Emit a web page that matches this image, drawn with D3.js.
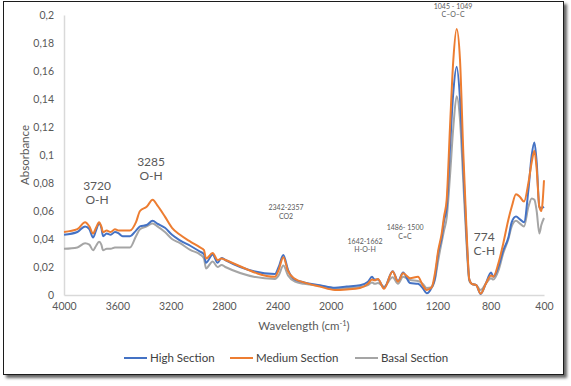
<!DOCTYPE html>
<html><head><meta charset="utf-8">
<script src="https://cdn.jsdelivr.net/npm/d3@7/dist/d3.min.js"></script>
<style>
html,body{margin:0;padding:0;background:#fff;}
svg{display:block;font-family:"Lato","Open Sans",sans-serif;}
</style></head>
<body>
<svg id="c" width="571" height="386"></svg>
<script>
const wavenumbers = [4000,3900,3842,3810,3782,3760,3737,3720,3707,3680,3650,3618,3590,3560,3505,3460,3430,3380,3335,3300,3243,3190,3130,3050,2980,2950,2935,2885,2848,2818,2790,2418,2390,2355,2320,2268,2200,2080,1968,1880,1780,1720,1690,1670,1645,1600,1535,1495,1457,1405,1345,1310,1280,1242,1218,1193,1167,1150,1130,1105,1080,1055,1030,1005,980,960,942,908,875,837,797,780,742,705,667,642,610,580,550,517,492,472,455,435,420,400];
const highSection = [.043,.045,.049,.047,.041,.046,.051,.048,.042,.044,.043,.045,.044,.042,.042,.046,.049,.050,.053,.051,.048,.043,.039,.035,.031,.029,.023,.029,.023,.0265,.025,.015,.020,.0285,.018,.011,.009,.007,.0052,.006,.007,.0095,.013,.011,.011,.005,.017,.010,.016,.0086,.008,.005,.0012,.0055,.012,.030,.041,.053,.062,.105,.145,.163,.140,.090,.040,.011,.008,.007,.0007,.008,.016,.013,.020,.032,.041,.052,.056,.054,.052,.075,.100,.109,.095,.063,.062,.063];
const mediumSection = [.045,.047,.052,.049,.044,.048,.052,.049,.045,.046,.045,.047,.046,.046,.046,.052,.060,.063,.068,.064,.056,.048,.043,.038,.034,.032,.026,.030,.025,.026,.025,.013,.018,.027,.017,.0115,.009,.006,.0036,.004,.005,.008,.011,.0105,.0115,.0045,.0167,.0095,.0155,.012,.013,.007,.0036,.0055,.0155,.032,.044,.056,.068,.120,.168,.190,.168,.101,.044,.011,.008,.007,.001,.008,.014,.013,.0226,.037,.054,.063,.072,.070,.0667,.080,.095,.103,.090,.063,.060,.082];
const basalSection = [.033,.034,.037,.036,.032,.035,.038,.036,.032,.033,.033,.034,.034,.034,.034,.042,.047,.049,.051,.049,.045,.040,.037,.032,.029,.026,.019,.024,.020,.0215,.020,.0115,.014,.021,.014,.0095,.008,.0065,.0043,.005,.0057,.007,.009,.008,.0085,.006,.0126,.008,.013,.0107,.010,.008,.005,.0055,.011,.025,.038,.046,.055,.085,.120,.142,.125,.080,.035,.010,.008,.007,.0036,.008,.012,.011,.0174,.030,.040,.049,.053,.051,.049,.063,.069,.068,.060,.044,.050,.055];
const seriesNames = ["High Section","Medium Section","Basal Section"];
const seriesColors = ["#4472C4","#ED7D31","#A5A5A5"];
const xTicks = [4000,3600,3200,2800,2400,2000,1600,1200,800,400];
const yTicks = [0,0.02,0.04,0.06,0.08,0.1,0.12,0.14,0.16,0.18,0.2];
// label anchor: lx (wavenumber units) and y (absorbance units) of first baseline
const annotations = [
  {lx:3752, y:0.075, lines:["3720","O-H"], size:12},
  {lx:3347, y:0.0921, lines:["3285","O-H"], size:12},
  {lx:2335, y:0.0604, lines:["2342-2357","CO2"], size:7},
  {lx:1742, y:0.0364, lines:["1642-1662","H-O-H"], size:7},
  {lx:1442, y:0.0461, lines:["1486- 1500","C=C"], size:7},
  {lx:1082, y:0.2043, lines:["1045 - 1049","C–O–C"], size:7},
  {lx:848,  y:0.0386, lines:["774","C-H"], size:12}
];

const svg = d3.select("#c");
const defs = svg.append("defs");
const f = defs.append("filter").attr("id","sh").attr("x","-5%").attr("y","-5%").attr("width","115%").attr("height","115%");
f.append("feDropShadow").attr("dx",3).attr("dy",3).attr("stdDeviation",1.5).attr("flood-color","#000").attr("flood-opacity",0.6);
svg.append("rect").attr("x",3.5).attr("y",1.5).attr("width",560).attr("height",373)
  .attr("fill","#fff").attr("stroke","#1a1a1a").attr("stroke-width",1).attr("filter","url(#sh)");

const x = d3.scaleLinear().domain([4000,400]).range([64,544]);
const y = d3.scaleLinear().domain([0,0.2]).range([295,15]);
const fmt = v => (v===0?"0":d3.format("~g")(+v.toFixed(2))).replace(".",",");

// axes
const gx = svg.append("g").attr("transform","translate(0,295)")
  .call(d3.axisBottom(x).tickValues(xTicks).tickSize(0).tickPadding(8).tickFormat(d3.format("d")));
gx.select(".domain").attr("stroke","#D9D9D9").attr("stroke-width",1.5);
gx.selectAll("text").attr("fill","#595959").attr("font-size",10.5).attr("font-family","Lato, sans-serif");
const gy = svg.append("g").attr("transform","translate(64,0)")
  .call(d3.axisLeft(y).tickValues(yTicks).tickSize(0).tickPadding(10).tickFormat(fmt));
gy.select(".domain").attr("stroke","#D9D9D9").attr("stroke-width",1.5);
gy.selectAll("text").attr("fill","#595959").attr("font-size",10.5).attr("font-family","Lato, sans-serif");

// lines
const allSeries = [highSection, mediumSection, basalSection];
const line = d3.line().x((d,i)=>x(wavenumbers[i])).y(d=>y(d)).curve(d3.curveMonotoneX);
[2,0,1].forEach(k=>{
  svg.append("path").datum(allSeries[k]).attr("d",line)
    .attr("fill","none").attr("stroke",seriesColors[k]).attr("stroke-width",2).attr("stroke-linejoin","round");
});

// annotations
annotations.forEach(a=>{
  const t = svg.append("text").attr("x",x(a.lx)).attr("y",y(a.y)).attr("text-anchor","middle")
    .attr("fill","#595959").attr("font-size",a.size);
  a.lines.forEach((l,i)=>t.append("tspan").attr("x",x(a.lx)).attr("dy",i===0?0:a.size*1.2).text(l));
});

// axis titles
svg.append("text").attr("transform","translate(29,155) rotate(-90)").attr("text-anchor","middle")
  .attr("fill","#595959").attr("font-size",11.5).text("Absorbance");
const xt = svg.append("text").attr("x",304).attr("y",330).attr("text-anchor","middle")
  .attr("fill","#595959").attr("font-size",11.5);
xt.append("tspan").text("Wavelength (cm");
xt.append("tspan").attr("font-size",7.5).attr("dy",-4).text("-1");
xt.append("tspan").attr("dy",4).text(")");

// legend
const legX = [124,230,355];
seriesNames.forEach((n,i)=>{
  svg.append("line").attr("x1",legX[i]).attr("x2",legX[i]+23).attr("y1",358).attr("y2",358)
    .attr("stroke",seriesColors[i]).attr("stroke-width",2);
  svg.append("text").attr("x",legX[i]+26).attr("y",362).attr("fill","#404040").attr("font-size",11.5).text(n);
});
</script>
</body></html>
